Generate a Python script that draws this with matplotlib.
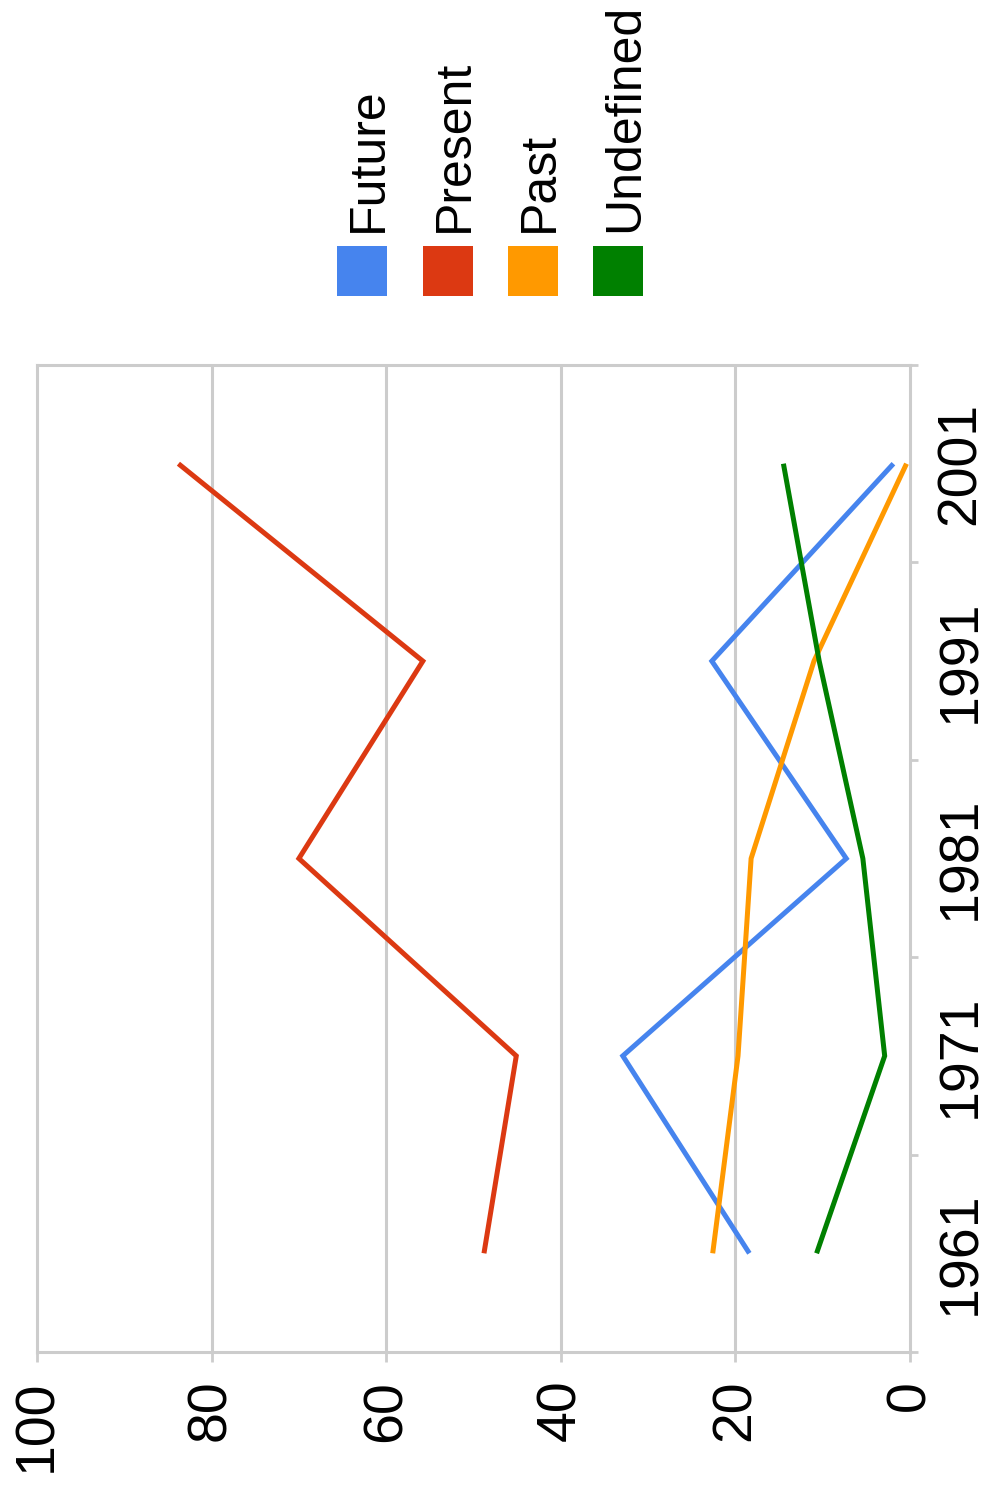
import matplotlib
matplotlib.use("Agg")
import matplotlib.pyplot as plt
from matplotlib.patches import Rectangle

plt.rcParams['font.family'] = ['Liberation Sans', 'DejaVu Sans']

years = ['1961', '1971', '1981', '1991', '2001']
series_names = ['Future', 'Present', 'Past', 'Undefined']
future = [18.4, 32.9, 7.3, 22.7, 1.9]
present = [48.8, 45.1, 70.0, 55.8, 83.8]
past = [22.6, 19.7, 18.2, 11.0, 0.4]
undefined = [10.7, 2.9, 5.4, 10.4, 14.5]
value_ticks = [0, 20, 40, 60, 80, 100]

colors = ['#4684ee', '#dc3912', '#ff9900', '#008000']
grid_color = '#cccccc'

W, H = 989, 1490
fig = plt.figure(figsize=(W / 100, H / 100), dpi=100)

def fx(x):
    return x / W

def fy(y):
    return 1 - y / H

# chart is drawn rotated: values run right-to-left, years bottom-to-top
ax = fig.add_axes([fx(37), fy(1352), fx(910) - fx(37), fy(365) - fy(1352)])
pos = list(range(len(years)))

for vals, c in zip([future, present, past, undefined], colors):
    ax.plot(vals, pos, color=c, lw=3.6, solid_capstyle='butt', solid_joinstyle='miter')

ax.set_xlim(100, 0)
ax.set_ylim(-0.5, len(years) - 0.5)

for v in value_ticks[1:-1]:
    ax.axvline(v, color=grid_color, lw=2.2, zorder=0)

for s in ax.spines.values():
    s.set_color(grid_color)
    s.set_linewidth(2.2)

ax.set_xticks(value_ticks)
ax.set_xticklabels([str(v) for v in value_ticks], rotation=90, fontsize=40)
ax.tick_params(axis='x', length=7, width=2, color=grid_color, pad=13)
for lab in ax.get_xticklabels():
    lab.set_verticalalignment('top')
    lab.set_horizontalalignment('center')

ax.yaxis.tick_right()
ax.set_yticks(pos)
ax.set_yticklabels(years, rotation=90, fontsize=40, va='center')
ax.set_yticks([p - 0.5 for p in pos] + [len(years) - 0.5], minor=True)
ax.tick_params(axis='y', which='major', length=0, pad=18)
ax.tick_params(axis='y', which='minor', length=6, width=2, color=grid_color)

# legend: colour squares with rotated labels above
leg_x = [337, 423, 508, 593]
for x, name, c in zip(leg_x, series_names, colors):
    fig.add_artist(Rectangle((fx(x), fy(296)), fx(50), fy(246) - fy(296),
                             transform=fig.transFigure, facecolor=c, edgecolor='none'))
    fig.text(fx(x + 45), fy(232), name, rotation=90, fontsize=36,
             ha='left', va='baseline', rotation_mode='anchor')

fig.savefig("out.png", dpi=100)
